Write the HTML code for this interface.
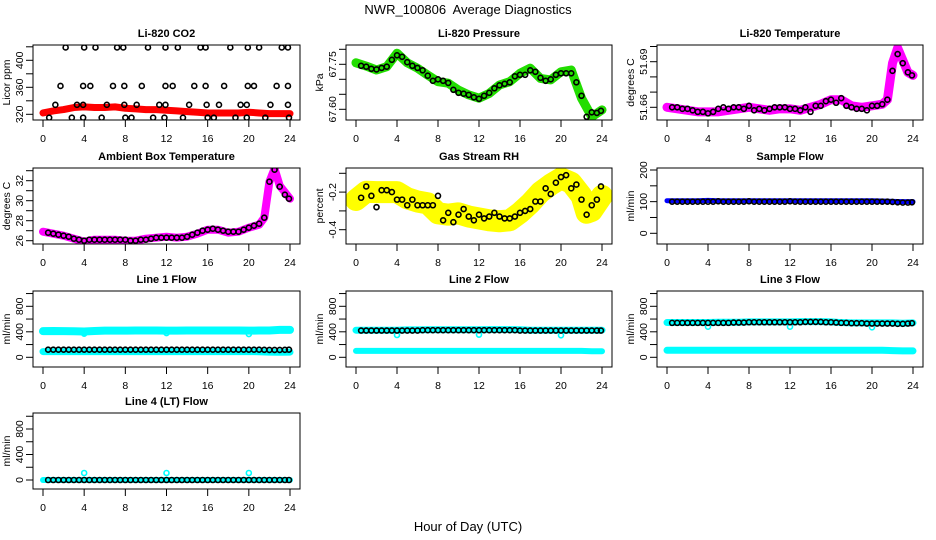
<!DOCTYPE html>
<html><head><meta charset="utf-8"><style>
html,body{margin:0;padding:0;background:#fff;}
svg{display:block;font-family:"Liberation Sans",sans-serif;}
</style></head><body>
<svg id="chart" width="936" height="540" viewBox="0 0 936 540">
<text x="468" y="14" font-size="13" text-anchor="middle" style="white-space:pre">NWR_100806  Average Diagnostics</text>
<text x="468" y="531" font-size="13" text-anchor="middle">Hour of Day (UTC)</text>
</svg>
<script>
const xTickLabels=["0","4","8","12","16","20","24"];
const hourly=[0,1,2,3,4,5,6,7,8,9,10,11,12,13,14,15,16,17,18,19,20,21,22,23,24];
const halfHours=[0.5,1,1.5,2,2.5,3,3.5,4, 4.5,5,5.5,6,6.5,7,7.5,8, 8.5,9,9.5,10,10.5,11,11.5,12, 12.5,13,13.5,14,14.5,15,15.5,16, 16.5,17,17.5,18,18.5,19,19.5,20, 20.5,21,21.5,22,22.5,23,23.5,23.9];

const co2Band=[322,325,327,330,331,330,330,331,329,328,327,327,326,325,324,323,322,322,322,322,323,322,321,321,321];
const co2PtHours=[2.2,4.0,5.1,7.2,7.8,10.2,11.9,13.1,15.3,15.8,18.2,19.9,21.0,23.2,23.8, 1.7,3.9,4.6,6.8,7.9,9.6,11.9,12.6,14.7,15.8,17.6,19.9,20.5,22.7,23.8, 1.2,3.3,3.9,6.2,7.9,9.1,11.3,11.9,14.2,15.9,17.1,19.2,19.8,22.1,23.8, 0.6,2.8,3.9,5.7,8.0,8.6,10.7,11.8,13.6,16.0,16.6,18.7,19.8,21.6,23.9];
const co2PtValues=[419,419,419,419,419,419,419,419,419,419,419,419,419,419,419, 362,362,362,362,362,362,362,362,362,362,362,362,362,362,362, 334,334,334,334,334,334,334,334,334,334,334,334,334,334,334, 315,315,315,315,315,315,315,315,315,315,315,315,315,315,315];

const presBand=[67.755,67.744,67.731,67.742,67.787,67.755,67.737,67.714,67.692,67.687,67.664,67.648,67.637,67.653,67.681,67.692,67.720,67.737,67.703,67.698,67.725,67.731,67.637,67.575,67.598];
const presPts=[67.745,67.742,67.735,67.733,67.738,67.742,67.765,67.780, 67.775,67.757,67.745,67.738,67.730,67.712,67.695,67.700, 67.695,67.688,67.665,67.655,67.652,67.648,67.640,67.635, 67.645,67.655,67.670,67.680,67.685,67.690,67.710,67.715, 67.715,67.730,67.725,67.705,67.695,67.700,67.715,67.720, 67.720,67.720,67.690,67.645,67.575,67.590,67.588,67.595];

const tempBandHours=[0,1,2,3,4,5,6,7,8,9,10,11,12,13,14,15,16,17,18,19,20,21,21.5,22,22.5,23,23.5,24];
const tempBand=[51.660,51.659,51.658,51.657,51.657,51.657,51.658,51.659,51.660,51.659,51.658,51.659,51.659,51.658,51.660,51.662,51.665,51.665,51.661,51.660,51.661,51.662,51.665,51.689,51.699,51.691,51.683,51.681];
const tempPts=[51.660,51.660,51.659,51.659,51.658,51.657,51.657,51.656, 51.657,51.659,51.660,51.659,51.660,51.660,51.659,51.661, 51.658,51.659,51.658,51.659,51.660,51.660,51.660,51.659, 51.659,51.658,51.660,51.657,51.661,51.661,51.664,51.665, 51.663,51.666,51.661,51.660,51.659,51.659,51.658,51.661, 51.661,51.662,51.665,51.684,51.695,51.689,51.683,51.681];

const ambBandHours=[0,1,2,3,4,5,6,7,8,9,10,11,12,13,14,15,16,17,18,19,20,21,21.5,22,22.5,23,24];
const ambBand=[26.9,26.7,26.5,26.2,25.9,26.1,26.1,26.1,26.0,26.0,26.2,26.3,26.4,26.3,26.4,26.7,27.1,27.1,26.8,26.9,27.3,27.6,28.3,31.9,33.2,31.5,30.2];
const ambPts=[26.8,26.7,26.6,26.5,26.4,26.2,26.1,26.0, 26.1,26.1,26.1,26.1,26.1,26.1,26.1,26.1, 26.0,26.0,26.1,26.1,26.2,26.3,26.3,26.3, 26.3,26.3,26.3,26.4,26.6,26.8,27.0,27.1, 27.2,27.1,27.0,26.9,26.9,26.9,27.1,27.3, 27.5,27.7,28.3,31.9,33.1,31.4,30.6,30.2];

const rhBandHours=[0,1,2,3,4,5,6,7,8,9,10,11,12,13,14,15,16,17,18,19,20,21,22,22.5,23,24];
const rhBand=[-0.242,-0.198,-0.2,-0.2,-0.2,-0.233,-0.25,-0.26,-0.313,-0.32,-0.313,-0.33,-0.34,-0.35,-0.355,-0.35,-0.31,-0.26,-0.2,-0.16,-0.127,-0.15,-0.22,-0.31,-0.3,-0.22];
const rhPts=[-0.23,-0.17,-0.22,-0.28,-0.19,-0.19,-0.20,-0.24, -0.24,-0.27,-0.24,-0.27,-0.27,-0.27,-0.27,-0.22, -0.35,-0.31,-0.36,-0.32,-0.29,-0.33,-0.35,-0.32, -0.34,-0.33,-0.31,-0.33,-0.34,-0.34,-0.33,-0.31, -0.30,-0.29,-0.25,-0.25,-0.18,-0.21,-0.15,-0.12, -0.11,-0.18,-0.16,-0.24,-0.32,-0.27,-0.24,-0.17];

const sampleBand=[103,103,103,103,104,103,103,103,103,103,103,103,103,103,103,103,103,103,103,103,103,102,101,100,100];
const samplePts=[100,100,100,100,100,100,100,100, 100,101,100,100,100,100,100,101, 100,100,100,100,100,100,100,101, 100,100,100,100,100,100,100,100, 100,100,100,100,100,100,100,100, 100,100,100,99,98,97,97,98];

const line1High=[410,412,410,408,405,412,418,418,418,420,420,420,418,418,420,420,420,420,420,420,418,420,420,430,430];
const line1Low=[90,90,90,90,90,90,90,90,90,90,90,90,90,90,90,90,90,90,90,90,90,88,82,80,82];
const line1Pts=[120,120,120,120,120,120,120,120, 120,120,120,120,120,120,120,120, 120,120,120,120,120,120,120,120, 120,120,120,120,120,120,120,120, 120,120,120,120,120,120,120,120, 120,120,118,116,116,116,118,120];
const line2High=[425,425,425,425,425,430,430,432,432,432,432,432,432,435,435,435,432,425,425,425,425,425,425,425,425];
const line2Low=[100,100,100,100,100,100,100,100,100,100,100,100,100,100,100,100,100,100,100,100,100,100,100,95,95];
const line2Pts=[420,420,420,420,420,420,420,420, 420,420,420,420,425,425,425,425, 425,425,425,425,425,425,425,425, 425,425,425,425,425,425,425,420, 420,420,420,420,420,420,420,420, 420,420,420,420,420,420,420,420];
const line3High=[545,545,545,545,545,550,550,550,555,555,555,555,555,560,560,560,555,545,540,540,540,540,540,535,540];
const line3Low=[110,110,110,110,110,110,110,110,110,110,110,110,110,110,110,110,110,110,110,110,110,110,105,100,100];
const line3Pts=[540,540,540,540,540,540,540,540, 540,540,540,540,545,545,545,550, 550,550,550,550,550,550,550,550, 550,550,555,555,555,555,550,550, 545,540,540,535,535,535,530,530, 530,530,530,530,525,525,530,535];
const line4Band=[0,0,0,0,0,0,0,0,0,0,0,0,0,0,0,0,0,0,0,0,0,0,0,0,0];
const line4Pts=[0,0,0,0,0,0,0,0, 0,0,0,0,0,0,0,0, 0,0,0,0,0,0,0,0, 0,0,0,0,0,0,0,0, 0,0,0,0,0,0,0,0, 0,0,0,0,0,0,0,0];
const outlierHours=[4,12,20];
const line1Outliers=[370,380,365];
const line2Outliers=[350,355,345];
const line3Outliers=[480,480,470];
const line4Outliers=[110,110,110];

const NS="http://www.w3.org/2000/svg";
const svg=document.getElementById('chart');
function mk(tag,parent){const e=document.createElementNS(NS,tag);parent.appendChild(e);return e;}

const cols=[[33,300],[346,612],[657,923]];
const rows=[[45,120],[168,244],[291,367],[413,489]];

function makePanel(name,title,ylab,col,row,v0,p0,v1,p1,ticks,labels){
  const g=mk('g',svg);
  
  
  const L=cols[col][0],R=cols[col][1],T=rows[row][0],B=rows[row][1];
  const xs=h=>L+10+(R-L-20)*h/24;
  const off=row===3?(480-357.3):0;
  const ys=v=>p0+off+(v-v0)*(p1-p0)/(v1-v0);
  const plot=mk('g',g);
  
  
  const xa=mk('g',g);
  
  
  xTickLabels.forEach(s=>{
    const h=+s;
    const t=mk('line',xa);t.setAttribute('x1',xs(h));t.setAttribute('x2',xs(h));t.setAttribute('y1',B);t.setAttribute('y2',B+7);t.setAttribute('stroke','#000');
    const tx=mk('text',xa);tx.setAttribute('x',xs(h));tx.setAttribute('y',B+22);tx.setAttribute('font-size','10.5');tx.setAttribute('text-anchor','middle');tx.textContent=s;
    
    
  });
  const ya=mk('g',g);
  
  
  ticks.forEach(v=>{
    const y=ys(v);
    const t=mk('line',ya);t.setAttribute('x1',L-7);t.setAttribute('x2',L);t.setAttribute('y1',y);t.setAttribute('y2',y);t.setAttribute('stroke','#000');
  });
  labels.forEach(s=>{
    const y=ys(parseFloat(s));
    const tx=mk('text',ya);tx.setAttribute('transform','translate('+(L-10)+','+y+') rotate(-90)');tx.setAttribute('font-size','10.5');tx.setAttribute('text-anchor','middle');tx.textContent=s;
    
    
  });
  const yt=mk('text',g);yt.setAttribute('transform','translate('+(L-23)+','+((T+B)/2)+') rotate(-90)');yt.setAttribute('font-size','10.5');yt.setAttribute('text-anchor','middle');yt.textContent=ylab;
  
  
  const tt=mk('text',g);tt.setAttribute('x',(L+R)/2);tt.setAttribute('y',T-8);tt.setAttribute('font-size','11');tt.setAttribute('font-weight','bold');tt.setAttribute('text-anchor','middle');tt.textContent=title;
  
  
  const box=mk('rect',g);box.setAttribute('x',L);box.setAttribute('y',T);box.setAttribute('width',R-L);box.setAttribute('height',B-T);box.setAttribute('fill','none');box.setAttribute('stroke','#000');
  
  
  const clip=mk('clipPath',g);clip.setAttribute('id','clip-'+name);
  const cr=mk('rect',clip);cr.setAttribute('x',L);cr.setAttribute('y',T);cr.setAttribute('width',R-L);cr.setAttribute('height',B-T);
  plot.setAttribute('clip-path','url(#clip-'+name+')');
  return {xs,ys,plot};
}
function band(p,hours,vals,color,w,name){
  const pl=mk('polyline',p.plot);
  pl.setAttribute('points',hours.map((h,i)=>p.xs(h)+','+p.ys(vals[i])).join(' '));
  pl.setAttribute('fill','none');pl.setAttribute('stroke',color);pl.setAttribute('stroke-width',w);
  pl.setAttribute('stroke-linejoin','round');pl.setAttribute('stroke-linecap','round');
  
  
}
function pts(p,hours,vals,color,name){
  const g=mk('g',p.plot);
  
  
  hours.forEach((h,i)=>{
    const c=mk('circle',g);c.setAttribute('cx',p.xs(h));c.setAttribute('cy',p.ys(vals[i]));c.setAttribute('r',2.5);
    c.setAttribute('fill','none');c.setAttribute('stroke',color);c.setAttribute('stroke-width',1.6);
    
    
  });
}
let p;
p=makePanel('co2','Li-820 CO2','Licor ppm',0,0,320,114.3,400,60.3,[320,340,360,380,400,420],["320","360","400"]);
band(p,hourly,co2Band,'#ff0000',7,'co2-band');pts(p,co2PtHours,co2PtValues,'#000','co2-points');
p=makePanel('pressure','Li-820 Pressure','kPa',1,0,67.60,109.3,67.75,64.3,[67.60,67.65,67.70,67.75,67.80],["67.60","67.75"]);
band(p,hourly,presBand,'#22dd00',9,'pressure-band');pts(p,halfHours,presPts,'#000','pressure-points');
p=makePanel('temperature','Li-820 Temperature','degrees C',2,0,51.66,107.3,51.69,61.7,[51.66,51.67,51.68,51.69,51.70],["51.66","51.69"]);
band(p,tempBandHours,tempBand,'#ff00ff',9,'temperature-band');pts(p,halfHours,tempPts,'#000','temperature-points');
p=makePanel('ambient','Ambient Box Temperature','degrees C',0,1,26,240.7,32,180.7,[26,27,28,29,30,31,32,33],["26","28","30","32"]);
band(p,ambBandHours,ambBand,'#ff00ff',8,'ambient-band');pts(p,halfHours,ambPts,'#000','ambient-points');
p=makePanel('rh','Gas Stream RH','percent',1,1,-0.1,173.3,-0.4,229.7,[-0.1,-0.2,-0.3,-0.4],["-0.2","-0.4"]);
band(p,rhBandHours,rhBand,'#ffff00',22,'rh-band');pts(p,halfHours,rhPts,'#000','rh-points');
p=makePanel('sample-flow','Sample Flow','ml/min',2,1,0,233.3,200,170,[0,50,100,150,200],["0","100","200"]);
band(p,hourly,sampleBand,'#0000ff',5,'sample-band');pts(p,halfHours,samplePts,'#000','sample-points');
p=makePanel('line1','Line 1 Flow','ml/min',0,2,0,357.3,800,306.3,[0,200,400,600,800,1000],["0","400","800"]);
band(p,hourly,line1High,'#00ffff',8,'line1-high-band');band(p,hourly,line1Low,'#00ffff',7,'line1-low-band');
pts(p,outlierHours,line1Outliers,'#00ffff','line1-outliers');pts(p,halfHours,line1Pts,'#000','line1-points');
p=makePanel('line2','Line 2 Flow','ml/min',1,2,0,357.3,800,306.3,[0,200,400,600,800,1000],["0","400","800"]);
band(p,hourly,line2High,'#00ffff',7,'line2-high-band');band(p,hourly,line2Low,'#00ffff',6,'line2-low-band');
pts(p,outlierHours,line2Outliers,'#00ffff','line2-outliers');pts(p,halfHours,line2Pts,'#000','line2-points');
p=makePanel('line3','Line 3 Flow','ml/min',2,2,0,357.3,800,306.3,[0,200,400,600,800,1000],["0","400","800"]);
band(p,hourly,line3High,'#00ffff',7,'line3-high-band');band(p,hourly,line3Low,'#00ffff',7,'line3-low-band');
pts(p,outlierHours,line3Outliers,'#00ffff','line3-outliers');pts(p,halfHours,line3Pts,'#000','line3-points');
p=makePanel('line4','Line 4 (LT) Flow','ml/min',0,3,0,357.3,800,306.3,[0,200,400,600,800,1000],["0","400","800"]);
band(p,hourly,line4Band,'#00ffff',6,'line4-band');
pts(p,outlierHours,line4Outliers,'#00ffff','line4-outliers');pts(p,halfHours,line4Pts,'#000','line4-points');
</script>
</body></html>
